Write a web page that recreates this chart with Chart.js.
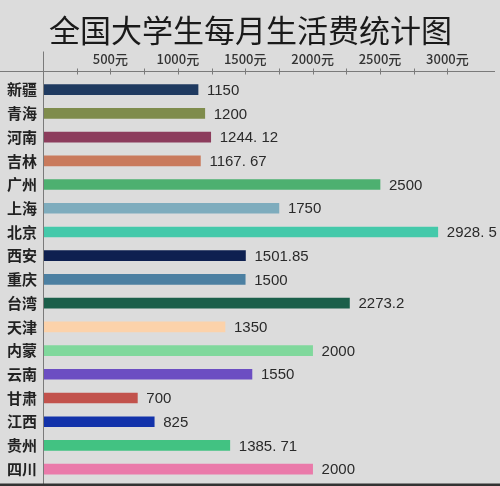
<!DOCTYPE html>
<html><head><meta charset="utf-8">
<script src="https://cdn.jsdelivr.net/npm/chart.js@4/dist/chart.umd.min.js"></script>
<style>html,body{margin:0;padding:0;background:#dcdcdc;}#wrap{width:500px;height:486px;}</style>
</head><body><div id="wrap"><canvas id="c"></canvas></div>
<script>
const categories = ['新疆','青海','河南','吉林','广州','上海','北京','西安','重庆','台湾','天津','内蒙','云南','甘肃','江西','贵州','四川'];
const values = [1150,1200,1244.12,1167.67,2500,1750,2928.5,1501.85,1500,2273.2,1350,2000,1550,700,825,1385.71,2000];
const valueLabels = ['1150','1200','1244. 12','1167. 67','2500','1750','2928. 5','1501.85','1500','2273.2','1350','2000','1550','700','825','1385. 71','2000'];
const barColors = ['#1f3a60','#7f8c4c','#8c3c5c','#c97a5c','#4db070','#7eacbd','#44c9aa','#0e2050','#4c80a2','#1b5f4a','#fcd2aa','#80d89c','#6c4ec2','#c2524c','#1232aa','#42c282','#ea7aaa'];
const tickValues = [500,1000,1500,2000,2500,3000];
const minorTicks = [250,500,750,1000,1250,1500,1750,2000,2250,2500,2750,3000];

const labelPlugin = {
  id:'valLabels',
  afterDatasetsDraw(chart){
    const ctx = chart.ctx;
    const meta = chart.getDatasetMeta(0);
    ctx.save();
    ctx.font = '15px "Liberation Sans", Arial, sans-serif';
    ctx.fillStyle = '#2a2a2a';
    ctx.textBaseline = 'middle';
    ctx.textAlign = 'left';
    meta.data.forEach((bar,i)=>{
      ctx.fillText(valueLabels[i], bar.x + 9, bar.y + 1);
    });
    ctx.restore();
  }
};
const linePlugin = {
  id:'extraLines',
  afterDraw(chart){
    const ctx = chart.ctx;
    const xs = chart.scales.x;
    const y = Math.round(chart.chartArea.top - 7) + 0.5;
    const left = chart.chartArea.left;
    ctx.save();
    ctx.strokeStyle = '#7a7a7a';
    ctx.lineWidth = 1;
    ctx.beginPath(); ctx.moveTo(0,y); ctx.lineTo(495,y); ctx.stroke();
    ctx.beginPath(); ctx.moveTo(left+0.5,y-20); ctx.lineTo(left+0.5,484); ctx.stroke();
    ctx.beginPath();
    minorTicks.forEach(v=>{ const px = Math.round(xs.getPixelForValue(v))+0.5; ctx.moveTo(px,y-3); ctx.lineTo(px,y+3); });
    ctx.stroke();
    ctx.strokeStyle = '#333';
    ctx.lineWidth = 3;
    ctx.beginPath(); ctx.moveTo(0,485); ctx.lineTo(500,485); ctx.stroke();
    ctx.restore();
  }
};

new Chart(document.getElementById('c'), {
  type:'bar',
  data:{labels:categories, datasets:[{data:values, backgroundColor:barColors, barThickness:10, borderWidth:0}]},
  options:{
    indexAxis:'y', responsive:true, maintainAspectRatio:false, animation:false,
    layout:{padding:{left:1,right:0,top:12,bottom:5}},
    plugins:{
      legend:{display:false}, tooltip:{enabled:false},
      title:{display:true, text:'全国大学生每月生活费统计图', color:'#1a1a1a',
        font:{family:'"Noto Sans CJK SC"', size:31, weight:'normal'}, padding:{top:0,bottom:-9}}
    },
    scales:{
      x:{position:'top', min:0, max:3390,
        afterBuildTicks(axis){ axis.ticks = tickValues.map(v=>({value:v})); },
        ticks:{color:'#333', font:{family:'"Noto Sans CJK SC"', size:13, weight:'500'}, padding:11,
          callback:(v)=> v + '元'},
        grid:{display:false, drawTicks:false},
        border:{display:false}
      },
      y:{
        afterFit(axis){ axis.paddingTop = 0; axis.paddingBottom = 0; },
        ticks:{color:'#222', font:{family:'"Noto Sans CJK SC"', size:15, weight:'bold'}, padding:6, autoSkip:false},
        grid:{display:false, drawTicks:false},
        border:{display:false}
      }
    }
  },
  plugins:[labelPlugin, linePlugin]
});
</script></body></html>
